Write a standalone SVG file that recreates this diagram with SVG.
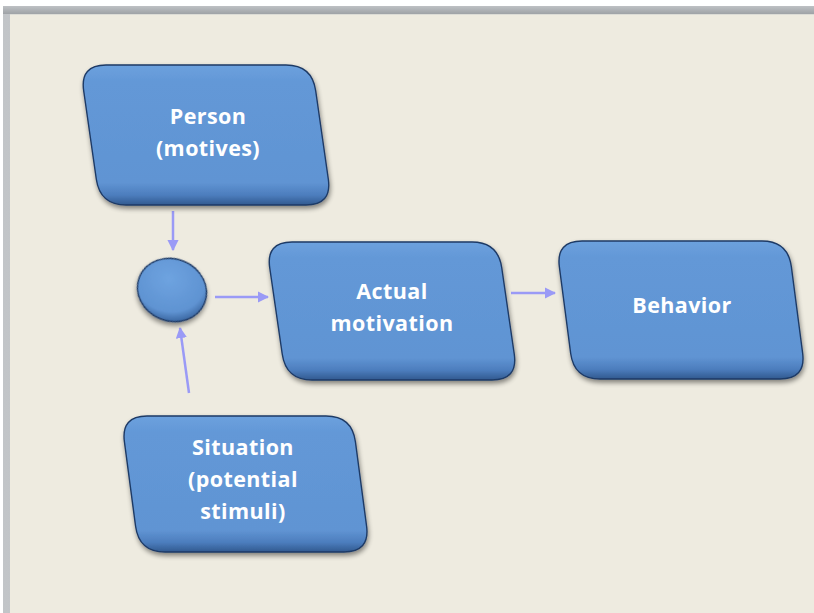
<svg xmlns="http://www.w3.org/2000/svg" width="814" height="613" viewBox="0 0 814 613">
  <defs>
    <linearGradient id="frameTop" x1="0" y1="0" x2="0" y2="1">
      <stop offset="0" stop-color="#BEC1C4"/>
      <stop offset="1" stop-color="#9EA2A6"/>
    </linearGradient>
    <linearGradient id="frameLeft" x1="0" y1="0" x2="1" y2="0">
      <stop offset="0" stop-color="#C2C5C8"/>
      <stop offset="1" stop-color="#999DA1"/>
    </linearGradient>
    <linearGradient id="nodeFill" x1="0" y1="0" x2="0" y2="1">
      <stop offset="0" stop-color="#6CA1DE"/>
      <stop offset="0.12" stop-color="#6398D7"/>
      <stop offset="0.84" stop-color="#6094D3"/>
      <stop offset="0.93" stop-color="#4C7DBD"/>
      <stop offset="1" stop-color="#31598F"/>
    </linearGradient>
    <radialGradient id="ballFill" cx="0.4" cy="0.35" r="0.7">
      <stop offset="0" stop-color="#6EA3E0"/>
      <stop offset="0.75" stop-color="#5F93D2"/>
      <stop offset="1" stop-color="#35609A"/>
    </radialGradient>
    <filter id="shade" x="-10%" y="-10%" width="125%" height="130%">
      <feGaussianBlur in="SourceAlpha" stdDeviation="2.5"/>
      <feOffset dx="1" dy="3" result="b"/>
      <feComponentTransfer><feFuncA type="linear" slope="0.45"/></feComponentTransfer>
      <feMerge><feMergeNode/><feMergeNode in="SourceGraphic"/></feMerge>
    </filter>
    <marker id="head" viewBox="0 0 10 10" refX="9" refY="5" markerWidth="4.5" markerHeight="4.5" orient="auto">
      <path d="M0,0 L10,5 L0,10 Z" fill="#9A9AF6"/>
    </marker>
    <style>
      .node { fill: url(#nodeFill); stroke: #1E3A66; stroke-width: 1.4; filter: url(#shade); }
      .label { font-family: "Open Sans", "Liberation Sans", sans-serif; font-weight: bold; font-size: 21.5px; letter-spacing: 0.4px; fill: #FFFFFF; text-anchor: middle; }
      .link { stroke: #9A9AF6; stroke-width: 2.5; fill: none; marker-end: url(#head); }
    </style>
  </defs>

  <!-- page and window frame -->
  <rect x="0" y="0" width="814" height="613" fill="#FFFFFF"/>
  <rect x="3" y="6" width="811" height="607" fill="url(#frameLeft)"/>
  <rect x="3" y="6" width="811" height="8" fill="url(#frameTop)"/>
  <rect x="10" y="14" width="804" height="599" fill="#EEEBE0"/>
  <line x1="10" y1="14.5" x2="814" y2="14.5" stroke="#DCDCD6" stroke-width="1"/>

  <!-- connectors -->
  <g id="connectors">
    <line class="link" x1="173" y1="211" x2="173" y2="250"/>
    <line class="link" x1="189" y1="393" x2="180" y2="328"/>
    <line class="link" x1="215" y1="297" x2="268" y2="297"/>
    <line class="link" x1="511" y1="293" x2="555" y2="293"/>
  </g>

  <g id="person">
    <path class="node" d="M106,65 L286,65 Q312,65 315.68,90.74 L328.32,179.26 Q332,205 306,205 L126,205 Q100,205 96.32,179.26 L83.68,90.74 Q80,65 106,65 Z"/>
    <text class="label" x="208" y="124">Person</text>
    <text class="label" x="208" y="156">(motives)</text>
  </g>

  <g id="junction">
    <ellipse cx="172" cy="290" rx="35" ry="31" transform="rotate(22 172 290)" fill="url(#ballFill)" stroke="#1E3A66" stroke-width="1.4" filter="url(#shade)"/>
  </g>

  <g id="actual-motivation">
    <path class="node" d="M292,242 L472,242 Q498,242 501.73,267.73 L514.27,354.27 Q518,380 492,380 L312,380 Q286,380 282.27,354.27 L269.73,267.73 Q266,242 292,242 Z"/>
    <text class="label" x="392" y="299">Actual</text>
    <text class="label" x="392" y="331">motivation</text>
  </g>

  <g id="behavior">
    <path class="node" d="M582,241 L762,241 Q788,241 791.36,266.78 L802.64,353.22 Q806,379 780,379 L600,379 Q574,379 570.64,353.22 L559.36,266.78 Q556,241 582,241 Z"/>
    <text class="label" x="682" y="313">Behavior</text>
  </g>

  <g id="situation">
    <path class="node" d="M147,416 L326,416 Q352,416 355.41,441.78 L366.59,526.22 Q370,552 344,552 L165,552 Q139,552 135.59,526.22 L124.41,441.78 Q121,416 147,416 Z"/>
    <text class="label" x="243" y="455">Situation</text>
    <text class="label" x="243" y="487">(potential</text>
    <text class="label" x="243" y="519">stimuli)</text>
  </g>
</svg>
